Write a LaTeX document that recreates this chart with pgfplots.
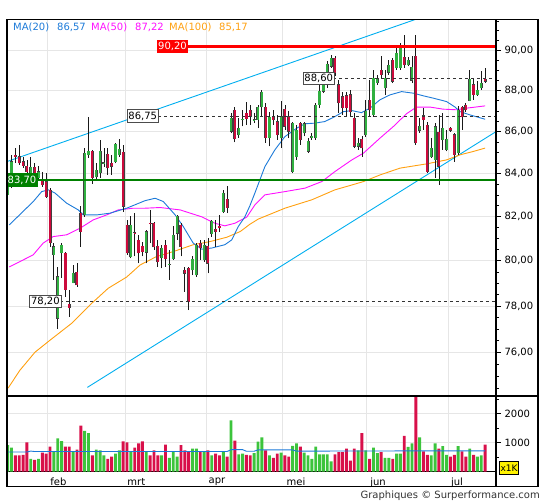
\documentclass[border=0pt]{standalone}
\usepackage{pgfplots}
\pgfplotsset{compat=1.18}
\usepackage{pgfplotstable}
\usepackage{fontspec}
\setmainfont{DejaVu Sans}

\definecolor{cgreen}{HTML}{30B040}
\definecolor{cred}{HTML}{CC0A3C}
\definecolor{vgreen}{HTML}{3CC43C}
\definecolor{vred}{HTML}{D8104A}
\definecolor{maA}{HTML}{1C7AD8}
\definecolor{maB}{HTML}{FF10FF}
\definecolor{maC}{HTML}{FFA010}
\definecolor{chan}{HTML}{00AEEF}
\definecolor{gridc}{HTML}{E6E6E6}
\definecolor{lvgreen}{HTML}{008000}

% day, open, high, low, close, volume (x1000)
\pgfplotstableread{
d o h l c v
0 83.01 83.85 82.92 83.71 909
1 83.40 84.89 83.32 84.57 826
2 84.87 85.23 84.51 84.79 555
3 84.81 85.34 84.41 84.49 555
4 84.57 84.79 84.27 84.38 578
5 84.34 84.65 83.86 84.10 1003
6 83.95 84.81 83.86 84.31 437
7 84.31 84.49 83.71 83.86 401
8 83.79 84.34 83.71 84.10 437
9 83.71 84.09 83.38 83.47 649
10 83.63 84.03 82.88 82.93 614
11 83.24 83.33 80.64 80.79 861
12 80.27 80.79 79.15 80.64 673
13 77.47 79.74 77.03 79.30 1145
14 80.34 80.79 79.24 80.71 1050
15 80.34 80.41 78.42 78.71 861
16 78.09 78.71 77.54 77.93 861
17 79.03 79.82 79.00 79.44 673
18 79.49 79.89 78.86 78.93 755
19 82.17 82.50 80.63 81.32 1581
20 82.08 85.23 81.99 84.97 1404
21 84.89 86.73 84.75 85.05 1322
22 85.05 85.13 83.52 83.80 555
23 83.86 84.51 83.71 84.18 755
24 84.02 85.61 83.80 85.05 732
25 84.48 85.23 84.32 84.52 555
26 84.94 85.23 83.95 84.26 437
27 84.49 84.89 83.95 84.34 519
28 84.57 85.46 84.49 85.40 614
29 84.89 85.64 84.79 85.16 732
30 85.03 85.37 82.23 82.47 1038
31 81.62 81.85 80.27 80.34 1003
32 80.16 82.01 80.11 81.62 673
33 81.27 82.16 80.19 81.26 826
34 80.94 81.17 79.89 80.34 968
35 80.67 80.86 80.19 80.40 1038
36 80.37 81.40 79.89 81.32 673
37 81.70 82.31 80.79 81.69 555
38 81.70 81.77 80.49 80.61 732
39 80.67 80.94 79.74 79.96 555
40 80.12 80.71 79.67 80.57 555
41 80.71 80.94 79.74 80.07 932
42 79.84 80.49 79.15 79.86 472
43 80.07 81.55 80.04 81.17 673
44 81.24 82.08 80.94 82.01 519
45 81.62 81.70 80.19 80.64 909
46 79.59 79.74 78.64 79.44 732
47 79.67 79.74 77.83 78.19 673
48 79.59 80.19 79.37 80.07 791
49 79.37 80.79 79.30 80.71 791
50 80.79 80.94 80.04 80.57 673
51 80.04 80.94 79.96 80.71 673
52 80.67 81.02 79.44 79.89 732
53 81.22 81.85 81.09 81.81 555
54 81.43 81.85 80.64 81.32 614
55 81.55 82.08 81.32 81.47 555
56 82.23 83.24 82.16 83.09 696
57 82.81 83.40 82.16 82.42 519
58 86.01 86.90 85.93 86.65 1758
59 87.03 87.21 85.48 85.64 1062
60 85.85 86.66 85.70 86.17 590
61 86.58 87.06 86.26 86.60 614
62 86.90 87.45 86.33 86.62 578
63 87.06 87.30 86.33 86.73 555
64 86.56 86.90 86.41 86.58 637
65 86.57 87.30 86.17 87.19 1027
66 87.19 88.01 86.73 87.91 1180
67 87.19 87.40 85.47 85.71 732
68 85.71 86.96 85.29 86.72 555
69 86.73 87.06 86.33 86.57 472
70 86.49 86.82 85.61 85.85 614
71 85.69 87.47 85.21 86.73 649
72 87.10 87.30 86.09 86.25 555
73 86.73 86.98 85.69 86.01 519
74 84.10 86.49 84.02 86.41 885
75 84.81 86.33 84.65 86.09 968
76 86.41 86.49 85.37 85.61 861
77 85.93 86.49 85.77 86.38 649
78 85.05 85.69 84.97 85.53 555
79 85.69 85.93 85.61 85.77 437
80 85.69 87.39 85.61 87.30 861
81 87.30 88.29 87.14 87.96 590
82 87.96 88.88 87.88 88.73 590
83 88.29 89.48 88.14 89.33 590
84 89.20 89.75 89.13 89.62 354
85 89.62 89.73 88.73 88.86 590
86 88.29 88.53 86.90 87.39 673
87 87.70 87.94 86.82 87.16 673
88 87.75 87.94 86.77 87.16 791
89 87.80 88.04 86.73 86.96 378
90 86.67 86.91 85.21 85.29 791
91 85.29 85.71 85.13 85.45 732
92 85.64 85.77 84.81 85.21 1322
93 85.85 87.55 85.75 86.98 732
94 87.55 88.53 86.72 87.06 437
95 86.82 89.03 86.73 88.61 826
96 88.40 88.78 88.29 88.61 637
97 89.03 89.73 88.63 88.78 673
98 88.12 89.03 87.80 88.61 472
99 88.90 89.53 88.78 89.28 472
100 89.53 89.63 88.37 88.45 437
101 89.12 90.28 89.03 89.86 614
102 89.12 90.38 89.03 90.20 614
103 89.66 90.80 89.13 89.28 1227
104 89.28 89.68 89.20 89.50 850
105 88.50 89.70 88.37 89.17 968
106 89.70 90.80 85.37 85.45 3000
107 86.06 86.67 85.94 86.28 1180
108 86.77 87.16 86.09 86.57 696
109 86.33 86.49 84.05 84.10 578
110 84.81 85.69 84.73 85.21 555
111 84.65 86.43 83.80 86.24 968
112 85.96 86.82 83.47 84.34 791
113 85.61 86.91 85.13 86.17 873
114 85.13 86.09 85.05 85.64 578
115 86.17 86.23 85.99 86.06 519
116 85.85 85.93 84.57 84.89 578
117 84.97 87.26 84.89 87.06 873
118 87.19 87.22 86.09 86.70 696
119 87.30 87.40 86.96 87.06 519
120 87.50 89.03 87.47 88.57 791
121 88.29 88.63 87.55 87.80 578
122 87.80 88.45 87.75 88.01 519
123 88.12 88.95 88.04 88.37 555
124 88.57 89.13 88.39 88.45 932
}\candles

\tikzset{tl/.style={font=\fontsize{10}{12}\selectfont}}
\pgfplotsset{
  upday/.style={x filter/.expression={\thisrow{c}<\thisrow{o} ? nan : x}},
  downday/.style={x filter/.expression={\thisrow{c}<\thisrow{o} ? x : nan}},
  stick/.style={draw=none, mark=none, error bars/.cd, y dir=plus, y explicit, error mark=none,
    error bar style={line cap=butt, #1}},
}

\begin{document}
\begin{tikzpicture}[x=1pt,y=1pt]
\path[use as bounding box] (0,0) rectangle (545,500);

\begin{axis}[
  at={(7pt,104pt)}, anchor=south west, scale only axis,
  width=489pt, height=376.7pt,
  xmin=-0.18, xmax=126.83,
  ymode=log, ymin=74.17, ymax=91.59,
  axis line style={line width=1.1pt},
  xtick={10.39,30.47,51.51,71.32,93.25,114.36}, xticklabels={},
  xtick style={draw=none},
  ytick={76,78,80,82,84,86,88,90},
  yticklabels={{76,00},{78,00},{80,00},{82,00},{84,00},{86,00},{88,00},{90,00}},
  minor ytick={74.5,75,75.5,76.5,77,77.5,78.5,79,79.5,80.5,81,81.5,82.5,83,83.5,84.5,85,85.5,86.5,87,87.5,88.5,89,89.5,90.5,91,91.5},
  ytick pos=right, yticklabel pos=right, tick align=outside,
  major tick length=5pt, minor tick length=3pt,
  ytick style={black, line width=0.8pt},
  yticklabel style={tl, anchor=west, xshift=0pt},
  xmajorgrids, ymajorgrids,
  major grid style={draw=gridc, line width=0.9pt},
  clip mode=individual,
]
% trend channel
\addplot[chan, line width=0.9pt] coordinates {(-0.5,84.55) (110,91.86)};
\addplot[chan, line width=0.9pt] coordinates {(20.7,74.53) (127,86.02)};
% moving averages
\addplot[maC, line width=0.9pt] coordinates {(0.1,74.50) (3.2,75.25) (7.1,76.02) (11,76.53) (16.6,77.25) (21.8,78.12) (26.1,78.78) (30.9,79.29) (34.4,79.82) (38.7,80.19) (43,80.41) (48.2,80.72) (52.5,80.86) (56.9,81.06) (60.4,81.32) (62.9,81.65) (65.1,81.89) (72,82.39) (79,82.78) (85,83.24) (89.4,83.47) (92.4,83.63) (96.7,83.94) (101.9,84.26) (108.8,84.46) (114,84.65) (117.5,84.89) (120.9,85.05) (124,85.21)};
\addplot[maB, line width=0.9pt] coordinates {(0.4,79.74) (6.6,80.26) (9.2,80.79) (11.8,81.09) (15.3,81.17) (18.8,81.47) (22.2,81.85) (25.7,82.08) (28.7,82.31) (32.6,82.39) (35.7,82.39) (39.6,82.42) (44.8,82.31) (50.4,81.99) (53.8,81.70) (56.4,81.58) (59,81.70) (62.1,81.98) (64.2,82.54) (66.8,83.01) (72,83.16) (77.2,83.32) (81.6,83.63) (85,84.10) (89.4,84.65) (92.4,84.97) (96.7,85.69) (100.2,86.25) (103.6,86.87) (106.2,87.19) (109.7,87.19) (113.1,87.09) (116.6,87.06) (119.2,87.14) (124,87.25)};
\addplot[maA, line width=0.9pt] coordinates {(0.4,81.62) (6.65,82.70) (8.83,83.16) (10.55,83.24) (12.29,83.09) (15.32,82.62) (18.34,82.31) (19.64,82.08) (23.1,82.08) (26.6,82.16) (30.9,82.39) (35.7,82.74) (38.3,82.85) (40.4,82.70) (43.5,82.08) (45.6,81.55) (48.2,80.79) (50.4,80.52) (53,80.57) (56.4,80.72) (58.2,80.94) (59.9,81.55) (61.6,81.99) (62.9,82.50) (64.2,83.09) (66.8,84.33) (69.4,85.13) (72,85.76) (75.1,86.17) (77.2,86.38) (79.8,86.41) (82.4,86.49) (85,86.73) (87.2,86.97) (89.4,87.02) (91.9,86.92) (94.1,87.14) (96.7,87.55) (99.3,87.79) (102.3,87.95) (105.4,87.87) (108,87.74) (110.5,87.63) (114,87.46) (116.2,87.19) (117.5,86.97) (120.1,86.81) (124,86.60)};
% wicks
\addplot[stick={line width=0.8pt, draw=black!90}]
  table[x=d, y=l, y error expr=\thisrow{h}-\thisrow{l}] {\candles};
% body outlines
\addplot[stick={line width=3.0pt, draw=black!75}]
  table[x=d, y expr={min(\thisrow{o},\thisrow{c})-0.012}, y error expr={abs(\thisrow{c}-\thisrow{o})+0.024}] {\candles};
% body fills
\addplot[stick={line width=2.2pt, draw=cgreen}]
  table[x=d, y=o, y error expr={max(\thisrow{c}-\thisrow{o},0)}] {\candles};
\addplot[stick={line width=2.2pt, draw=cred}]
  table[x=d, y=c, y error expr={max(\thisrow{o}-\thisrow{c},0)}] {\candles};
% levels
\addplot[black!80, dashed, line width=0.8pt] coordinates {(39.1,86.75) (127,86.75)};
\addplot[black!80, dashed, line width=0.8pt] coordinates {(84.6,88.60) (127,88.60)};
\addplot[black!80, dashed, line width=0.8pt] coordinates {(13.58,78.20) (127,78.20)};
\addplot[lvgreen, line width=2.6pt] coordinates {(-1,83.70) (127,83.70)};
\addplot[red, line width=2.6pt] coordinates {(46.9,90.20) (127,90.20)};
\node[tl, fill=red, text=white, inner xsep=1.6pt, inner ysep=0pt, minimum height=12.3pt] at (axis cs:42.8,90.20) {90,20};
\node[tl, fill=lvgreen, text=white, inner xsep=1.6pt, inner ysep=0pt, minimum height=13.4pt] at (axis cs:3.71,83.70) {83,70};
\node[tl, fill=white, draw=black!70, line width=0.7pt, inner xsep=1.4pt, inner ysep=0pt, minimum height=12.7pt] at (axis cs:35.09,86.75) {86,75};
\node[tl, fill=white, draw=black!70, line width=0.7pt, inner xsep=1.4pt, inner ysep=0pt, minimum height=12.7pt] at (axis cs:80.8,88.60) {88,60};
\node[tl, fill=white, draw=black!70, line width=0.7pt, inner xsep=1.4pt, inner ysep=0pt, minimum height=12.7pt] at (axis cs:9.78,78.20) {78,20};
\end{axis}

\begin{axis}[
  at={(7pt,28.4pt)}, anchor=south west, scale only axis,
  width=489pt, height=75.6pt,
  xmin=-0.18, xmax=126.83, ymin=0, ymax=2600,
  axis line style={line width=1.1pt},
  xtick={10.39,30.47,51.51,71.32,93.25,114.36}, xticklabels={},
  xtick style={draw=none},
  extra x ticks={13.19,33.40,54.36,74.88,96.18,116.7},
  extra x tick labels={feb,mrt,apr,mei,jun,jul},
  extra x tick style={grid=none, xticklabel style={tl, yshift=2pt}},
  ytick={1000,2000}, yticklabels={1000,2000},
  minor ytick={500,1500,2500},
  ytick pos=right, yticklabel pos=right, tick align=outside,
  major tick length=5pt, minor tick length=3pt,
  ytick style={black, line width=0.8pt},
  yticklabel style={tl, anchor=west},
  xmajorgrids, ymajorgrids,
  major grid style={draw=gridc, line width=0.9pt},
]
\addplot[ybar, bar width=2.9pt, bar shift=0pt, fill=vgreen, draw=none, upday] table[x=d, y=v] {\candles};
\addplot[ybar, bar width=2.9pt, bar shift=0pt, fill=vred, draw=none, downday] table[x=d, y=v] {\candles};
\addplot[maA, line width=0.9pt] coordinates {(0,675) (5,675) (6,705) (7,690) (57,690) (58,755) (61,755) (62,700) (64,700) (65,745) (74,745) (75,705) (124,715)};
\end{axis}

% frame
\draw[line width=1.2pt] (7,13.5) rectangle (538,480.7);
\draw[line width=1.2pt] (496,13.5) -- (496,480.7);
\draw[line width=1.2pt] (7,104) -- (538,104);
\node[draw=black, fill=yellow, inner xsep=1.2pt, inner ysep=0pt, minimum height=13pt, font=\fontsize{9}{10}\selectfont] at (509,32.2) {x1K};

% legend text
\begin{scope}[every node/.style={anchor=base west, inner sep=0pt, font=\fontsize{10}{12}\selectfont}]
\node[text=maA] at (13,469.3) {MA(20)};
\node[text=maA] at (57,469.3) {86,57};
\node[text=maB] at (91,469.3) {MA(50)};
\node[text=maB] at (135,469.3) {87,22};
\node[text=maC] at (169,469.3) {MA(100)};
\node[text=maC] at (219,469.3) {85,17};
\end{scope}
\node[anchor=base east, inner sep=0pt, text=black!80, font=\fontsize{10}{12}\selectfont] at (540,2) {Graphiques © Surperformance.com};
\end{tikzpicture}
\end{document}
